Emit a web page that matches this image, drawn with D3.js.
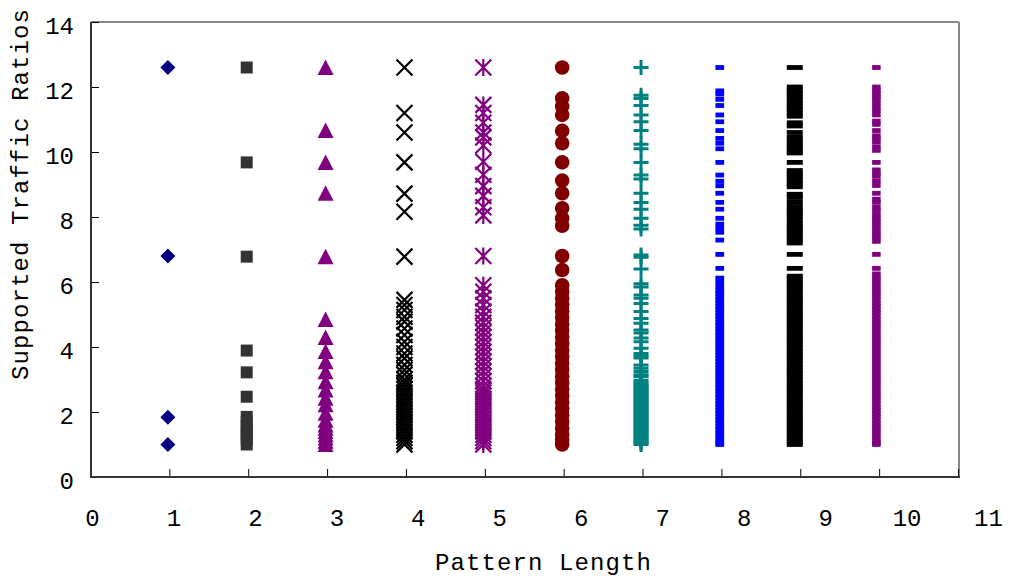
<!DOCTYPE html>
<html>
<head>
<meta charset="utf-8">
<script src="https://cdn.jsdelivr.net/npm/d3@7"></script>
<style>
  html, body { margin: 0; padding: 0; background: #ffffff; }
  svg { display: block; }
  text { font-family: "Courier New", "Nimbus Mono PS", "Nimbus Mono L", "FreeMono", "Liberation Mono", monospace; }
</style>
</head>
<body>
<svg id="chart" width="1010" height="581"></svg>
<script>
// ---------------- data ----------------
const patternLengths = [1, 2, 3, 4, 5, 6, 7, 8, 9, 10];
const xTickValues = [0, 1, 2, 3, 4, 5, 6, 7, 8, 9, 10, 11];
const yTickValues = [0, 2, 4, 6, 8, 10, 12, 14];
const xTitle = "Pattern Length";
const yTitle = "Supported Traffic Ratios";

const len1 = [12.6, 6.8, 1.84, 1.0];
const len2 = [12.6, 9.68, 6.78, 3.89, 3.22, 2.47, 1.85, 1.7, 1.55, 1.4, 1.3, 1.15, 1.0];
const len3 = [12.6, 10.66, 9.68, 8.73, 6.78, 4.85, 4.29, 3.86, 3.55, 3.24, 2.93, 2.68, 2.42, 2.22,
  1.96, 1.75, 1.6, 1.5, 1.4, 1.3, 1.2, 1.1, 1.0];
const len4 = [12.6, 11.2, 10.6, 9.68, 8.72, 8.16, 6.78, 5.45, 5.29, 5.14, 4.93, 4.78, 4.57, 4.37,
  4.16, 4.0, 3.8, 3.65, 3.45, 3.29, 3.15, 3.0, 2.9, 2.8, 2.7, 2.6, 2.5, 2.4, 2.3, 2.2, 2.1, 2.0,
  1.9, 1.8, 1.7, 1.6, 1.5, 1.4, 1.3, 1.2, 1.1, 1.0];
const len5 = [12.6, 11.45, 11.2, 10.9, 10.6, 10.45, 10.2, 9.7, 9.3, 8.95, 8.65, 8.3, 8.05, 6.8,
  5.9, 5.7, 5.5, 5.29, 5.09, 4.93, 4.75, 4.6, 4.45, 4.3, 4.15, 4.0, 3.85, 3.7, 3.55, 3.4, 3.25,
  3.1, 2.95, 2.8, 2.7, 2.6, 2.5, 2.4, 2.3, 2.2, 2.1, 2.0, 1.9, 1.8, 1.7, 1.6, 1.5, 1.4, 1.3,
  1.2, 1.1, 1.0];
const len6 = [12.6, 11.65, 11.4, 11.14, 10.65, 10.27, 9.68, 9.12, 8.73, 8.27, 7.96, 7.73, 6.8,
  6.37, 5.9, 5.7, 5.5, 5.3, 5.1, 4.9, 4.7, 4.5, 4.3, 4.1, 3.9, 3.7, 3.5, 3.3, 3.1, 2.9, 2.7,
  2.5, 2.3, 2.1, 1.9, 1.7, 1.5, 1.3, 1.15, 1.0];
const len7 = [12.6, 11.75, 11.65, 11.43, 11.14, 10.93, 10.66, 10.24, 10.1, 9.68, 9.29, 9.17,
  8.73, 8.45, 8.24, 7.96, 7.75, 7.63, 6.83, 6.76, 6.4, 5.95, 5.85, 5.6, 5.5, 5.34, 5.09, 4.88,
  4.73, 4.52, 4.43, 4.28, 4.16, 3.96, 3.8, 3.72, 3.66, 3.45, 3.35, 3.25, 3.15, 3.09, 2.98,
  2.9, 2.85, 2.8, 2.75, 2.7, 2.65, 2.6, 2.55, 2.5, 2.45, 2.4, 2.35, 2.3, 2.25, 2.2, 2.15, 2.1,
  2.05, 2.0, 1.95, 1.9, 1.85, 1.8, 1.75, 1.7, 1.65, 1.6, 1.55, 1.5, 1.45, 1.4, 1.35, 1.3,
  1.25, 1.2, 1.15, 1.1, 1.05, 1.0];
const len8 = [12.6, 11.88, 11.78, 11.62, 11.43, 11.14, 10.93, 10.66, 10.42, 10.27, 10.1, 9.68,
  9.29, 9.1, 8.96, 8.73, 8.45, 8.24, 7.96, 7.78, 7.65, 7.53, 7.29, 6.85, 6.42, 6.12, 6.0, 5.87,
  5.75, 5.65, 5.55, 5.45, 5.35, 5.25, 5.15, 5.05, 4.95, 4.85, 4.75, 4.65, 4.55, 4.45, 4.35,
  4.25, 4.15, 4.05, 3.95, 3.85, 3.75, 3.65, 3.55, 3.45, 3.35, 3.25, 3.15, 3.05, 2.95, 2.85,
  2.75, 2.65, 2.55, 2.45, 2.35, 2.25, 2.15, 2.05, 1.95, 1.85, 1.75, 1.65, 1.55, 1.45, 1.35,
  1.25, 1.15, 1.05, 1.0];
const len9 = [12.6, 12.0, 11.9, 11.8, 11.7, 11.6, 11.5, 11.4, 11.3, 11.2, 11.1, 10.9, 10.8,
  10.6, 10.45, 10.35, 10.25, 10.15, 10.05, 9.97, 9.68, 9.43, 9.33, 9.23, 9.13, 9.03, 8.93,
  8.7, 8.6, 8.45, 8.32, 8.22, 8.12, 8.02, 7.92, 7.8, 7.7, 7.6, 7.5, 7.4, 7.3, 7.2, 6.85, 6.42,
  6.18, 6.08, 5.98, 5.88, 5.78, 5.68, 5.58, 5.48, 5.38, 5.28, 5.18, 5.08, 4.98, 4.88, 4.78,
  4.68, 4.58, 4.48, 4.38, 4.28, 4.18, 4.08, 3.98, 3.88, 3.78, 3.68, 3.58, 3.48, 3.38, 3.28,
  3.18, 3.08, 2.98, 2.88, 2.78, 2.68, 2.58, 2.48, 2.38, 2.28, 2.18, 2.08, 1.98, 1.88, 1.78,
  1.68, 1.58, 1.48, 1.38, 1.28, 1.18, 1.08, 1.0];
const len10 = [12.6, 12.0, 11.9, 11.8, 11.7, 11.62, 11.5, 11.38, 11.27, 11.14, 10.95, 10.85,
  10.66, 10.5, 10.4, 10.3, 10.15, 10.05, 9.68, 9.45, 9.35, 9.25, 9.1, 8.97, 8.73, 8.55, 8.45,
  8.3, 8.2, 8.07, 7.97, 7.87, 7.75, 7.65, 7.55, 7.45, 7.35, 7.25, 6.85, 6.42, 6.25, 6.15, 6.05,
  5.95, 5.85, 5.75, 5.65, 5.55, 5.45, 5.35, 5.25, 5.15, 5.05, 4.95, 4.85, 4.75, 4.65, 4.55,
  4.45, 4.35, 4.25, 4.15, 4.05, 3.95, 3.85, 3.75, 3.65, 3.55, 3.45, 3.35, 3.25, 3.15, 3.05,
  2.95, 2.85, 2.75, 2.65, 2.55, 2.45, 2.35, 2.25, 2.15, 2.05, 1.95, 1.85, 1.75, 1.65, 1.55,
  1.45, 1.35, 1.25, 1.15, 1.05, 1.0];

const seriesValues = [len1, len2, len3, len4, len5, len6, len7, len8, len9, len10];

// ---------------- styles ----------------
const seriesStyle = [
  { shape: "diamond",  color: "#000080" },
  { shape: "square",   color: "#333333" },
  { shape: "triangle", color: "#800080" },
  { shape: "cross",    color: "#000000" },
  { shape: "star",     color: "#800080" },
  { shape: "circle",   color: "#800000" },
  { shape: "plus",     color: "#008080" },
  { shape: "dashA",    color: "#0000ff" },
  { shape: "dashB",    color: "#000000" },
  { shape: "dashC",    color: "#800080" }
];

// ---------------- layout ----------------
const svg = d3.select("#chart");
const mLeft = 91, mRight = 958, mTop = 22, mBottom = 477;
const FONT = '"Courier New", "Nimbus Mono PS", "Nimbus Mono L", "FreeMono", "Liberation Mono", monospace';

const x = d3.scaleLinear().domain([0, 11]).range([mLeft - 0.5, mRight]);
const xLabelPos = d3.scaleLinear().domain([0, 11]).range([92, 988]);
const y = d3.scaleLinear().domain([0, 14]).range([mBottom, mTop]);

// frame (top & right grey, left & bottom dark)
svg.append("line").attr("x1", mLeft).attr("x2", mRight + 1).attr("y1", mTop).attr("y2", mTop)
  .attr("stroke", "#888").attr("stroke-width", 2);
svg.append("line").attr("x1", mRight + 1).attr("x2", mRight + 1).attr("y1", mTop).attr("y2", mBottom)
  .attr("stroke", "#888").attr("stroke-width", 2);

// x axis ticks (inward)
const gx = svg.append("g").attr("transform", `translate(0,${mBottom})`)
  .call(d3.axisBottom(x).tickValues(xTickValues).tickSize(-8).tickFormat(""));
gx.select(".domain").remove();
gx.selectAll(".tick line").attr("stroke", "#000").attr("stroke-width", 1);

// x axis labels
const gxl = svg.append("g").attr("transform", `translate(0,${mBottom})`)
  .call(d3.axisBottom(xLabelPos).tickValues(xTickValues).tickSize(0).tickPadding(0).tickFormat(d3.format("d")));
gxl.select(".domain").remove();
gxl.selectAll(".tick text")
  .attr("y", 49).attr("dy", null)
  .attr("font-family", FONT).attr("font-size", 24)
  .attr("fill", "#000");

// y axis
const gy = svg.append("g").attr("transform", `translate(${mLeft},0)`)
  .call(d3.axisLeft(y).tickValues(yTickValues).tickSize(-8).tickPadding(0).tickFormat(d3.format("d")));
gy.select(".domain").remove();
gy.selectAll(".tick text")
  .attr("x", -17).attr("dy", 11)
  .attr("font-family", FONT).attr("font-size", 24)
  .attr("fill", "#000").attr("text-anchor", "end");
gy.selectAll(".tick line").attr("stroke", "#000").attr("stroke-width", 1);

// left & bottom axis lines
svg.append("line").attr("x1", mLeft).attr("x2", mLeft).attr("y1", mTop).attr("y2", mBottom + 1)
  .attr("stroke", "#333").attr("stroke-width", 2);
svg.append("line").attr("x1", mLeft).attr("x2", mRight + 2).attr("y1", mBottom).attr("y2", mBottom)
  .attr("stroke", "#333").attr("stroke-width", 2);

// axis titles
svg.append("text").text(xTitle)
  .attr("x", 435).attr("y", 570)
  .attr("font-family", FONT)
  .attr("font-size", 24).attr("letter-spacing", "1.1px")
  .attr("fill", "#000");
svg.append("text").text(yTitle)
  .attr("transform", "translate(28,380) rotate(-90)")
  .attr("font-family", FONT)
  .attr("font-size", 24).attr("letter-spacing", "1.1px")
  .attr("fill", "#000");

// ---------------- markers ----------------
function markerPath(shape) {
  switch (shape) {
    case "diamond":  return "M0,-7.5L7.5,0L0,7.5L-7.5,0Z";
    case "square":   return "M-6,-6H6V6H-6Z";
    case "triangle": return "M0,-8L8,7.5H-8Z";
    case "cross":    return "M-8,-8L8,8M-8,8L8,-8";
    case "star":     return "M-8,-8L8,8M-8,8L8,-8M0,-8.5V8.5";
    case "circle":   return "M7.3,0A7.3,7.3 0 1,1 -7.3,0A7.3,7.3 0 1,1 7.3,0Z";
    case "plus":     return "M-7.5,0H7.5M0,-7.5V7.5";
    case "dashA":    return "M-4.5,-2.4H4.2V2.4H-4.5Z";
    case "dashB":    return "M-12,-2.4H4V2.4H-12Z";
    case "dashC":    return "M-5.5,-2.4H3V2.4H-5.5Z";
  }
}
const strokeShapes = new Set(["cross", "star", "plus"]);

const plot = svg.append("g");
seriesValues.forEach((vals, i) => {
  const st = seriesStyle[i];
  const isStroke = strokeShapes.has(st.shape);
  plot.append("g")
    .selectAll("path")
    .data(vals)
    .join("path")
    .attr("transform", d => `translate(${x(patternLengths[i]) - 1.5},${y(d)})`)
    .attr("d", markerPath(st.shape))
    .attr("fill", isStroke ? "none" : st.color)
    .attr("stroke", isStroke ? st.color : "none")
    .attr("stroke-width", st.shape === "plus" ? 3 : 2.2);
});
</script>
</body>
</html>
